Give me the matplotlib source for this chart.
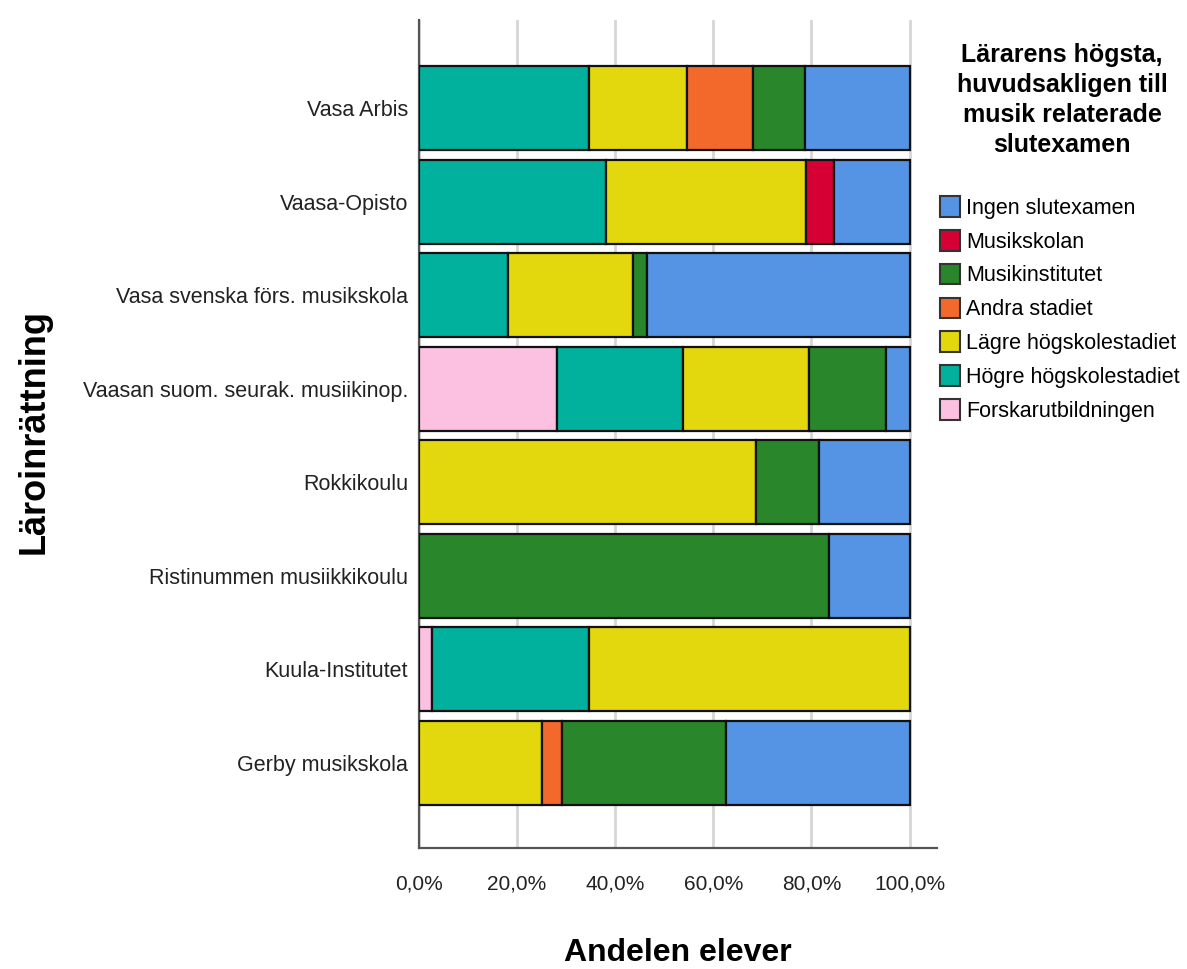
import matplotlib
matplotlib.use("Agg")
import matplotlib.pyplot as plt
from matplotlib.patches import Patch
import numpy as np

plt.rcParams['font.family'] = ['Liberation Sans', 'DejaVu Sans']

categories = ["Vasa Arbis", "Vaasa-Opisto", "Vasa svenska förs. musikskola",
              "Vaasan suom. seurak. musiikinop.", "Rokkikoulu",
              "Ristinummen musiikkikoulu", "Kuula-Institutet", "Gerby musikskola"]

# stacked from left to right
forskar     = [0.0, 0.0, 0.0, 28.1, 0.0, 0.0, 2.7, 0.0]
hogre       = [34.6, 38.2, 18.1, 25.7, 0.0, 0.0, 31.9, 0.0]
lagre       = [20.0, 40.7, 25.6, 25.7, 68.7, 0.0, 65.4, 25.0]
andra       = [13.4, 0.0, 0.0, 0.0, 0.0, 0.0, 0.0, 4.2]
musikinst   = [10.7, 0.0, 2.7, 15.6, 12.8, 83.5, 0.0, 33.3]
musikskolan = [0.0, 5.6, 0.0, 0.0, 0.0, 0.0, 0.0, 0.0]
ingen       = [21.3, 15.5, 53.6, 4.9, 18.5, 16.5, 0.0, 37.5]

series_names = ["Forskarutbildningen", "Högre högskolestadiet", "Lägre högskolestadiet",
                "Andra stadiet", "Musikinstitutet", "Musikskolan", "Ingen slutexamen"]
series_vals = [forskar, hogre, lagre, andra, musikinst, musikskolan, ingen]
colors = ["#FCC1E0", "#01B19E", "#E3D80E", "#F3692C", "#29862A", "#D70034", "#5594E4"]

xticks = [0, 20, 40, 60, 80, 100]
xticklabels = ["0,0%", "20,0%", "40,0%", "60,0%", "80,0%", "100,0%"]

fig = plt.figure(figsize=(11.87, 9.69), dpi=100)
ax = fig.add_axes([0.353, 0.125, 0.436, 0.854])

n = len(categories)
ypos = np.arange(n)[::-1]
left = np.zeros(n)
for name, vals, col in zip(series_names, series_vals, colors):
    v = np.array(vals)
    m = v > 0
    ax.barh(ypos[m], v[m], left=left[m], height=0.9, color=col,
            edgecolor="#111111", linewidth=1.6, zorder=3)
    left += v

ax.set_xlim(0, 105.5)
ax.set_ylim(-0.91, n - 1 + 0.94)
ax.set_yticks(ypos)
ax.set_yticklabels(categories, fontsize=15.5, color="#222222")
ax.set_xticks(xticks)
ax.set_xticklabels(xticklabels, fontsize=15, color="#222222")
ax.tick_params(axis="both", length=0)
ax.tick_params(axis="y", pad=8)
ax.tick_params(axis="x", pad=19)
ax.grid(axis="x", color="#D6D6D6", linewidth=2, zorder=0)
for s in ["top", "right"]:
    ax.spines[s].set_visible(False)
for s in ["left", "bottom"]:
    ax.spines[s].set_color("#555555")
    ax.spines[s].set_linewidth(1.6)

ax.set_xlabel("Andelen elever", fontsize=23, fontweight="bold", labelpad=32)
fig.text(34 / 1187, 1 - 432 / 969, "Läroinrättning", rotation=90, fontsize=26,
         fontweight="bold", ha="center", va="center")

fig.text(1062 / 1187, 1 - 100 / 969,
         "Lärarens högsta,\nhuvudsakligen till\nmusik relaterade\nslutexamen",
         fontsize=18, fontweight="bold", ha="center", va="center", linespacing=1.3)

handles = [Patch(facecolor=c, edgecolor="#333333", linewidth=1.5) for c in colors][::-1]
labels = series_names[::-1]
fig.legend(handles, labels, loc="upper left", bbox_to_anchor=(940 / 1187, 1 - 196 / 969),
           frameon=False, fontsize=15.5, handlelength=0.95, handleheight=1.1,
           handletextpad=0.25, labelspacing=0.52, borderaxespad=0, borderpad=0)

fig.savefig("out.png", dpi=100)
